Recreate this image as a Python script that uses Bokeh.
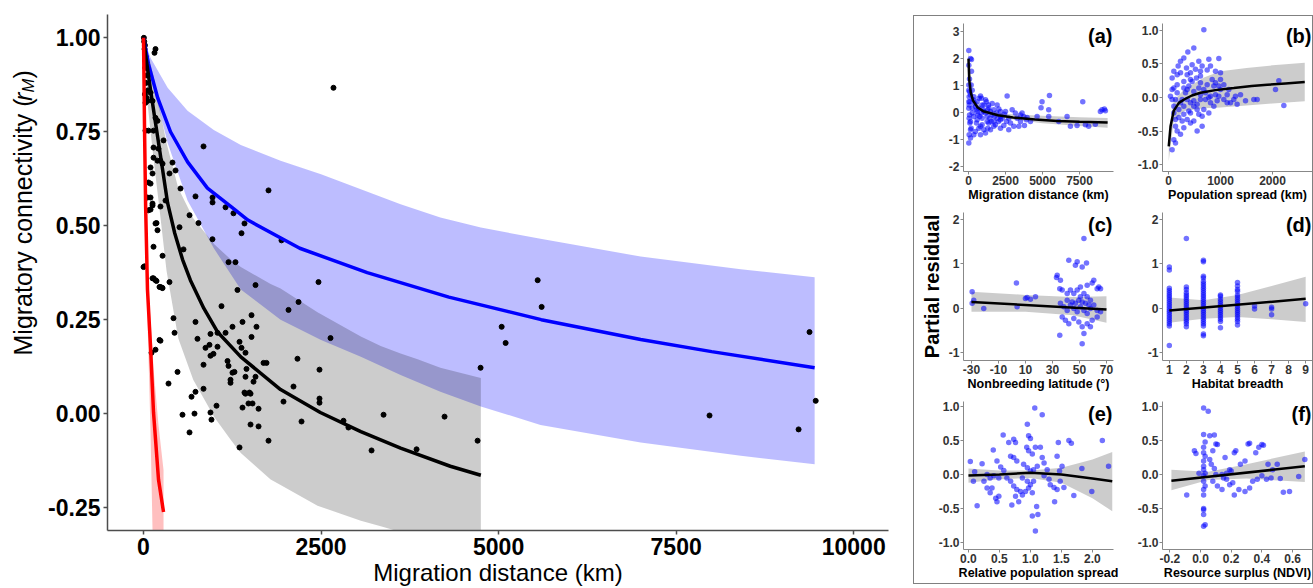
from bokeh.plotting import figure
from bokeh.layouts import row, column
from bokeh.models import Range1d, FixedTicker, NumeralTickFormatter, Label, Spacer
from bokeh.embed import file_html
from bokeh.resources import INLINE
import math

FONT = "Liberation Sans"

# ---------------- main panel data ----------------
main_x = [5, 10, 20, 15, 30, 40, 25, 50, 35, 60, 20, 45,
          155, 169, 2675, 845, 1760, 1943, 2464, 1577, 1323,
          732, 972, 972, 1155, 1267, 1422, 1380, 648, 774, 971,
          521, 507, 563, 1197, 1295, 366, 268, 141, 183, 197,
          0, 127, 169, 225, 260, 282, 197, 408, 451, 366, 310,
          127, 56, 28, 99, 70, 28, 141, 169, 197, 141, 211,
          239, 268, 141, 99, 127, 70, 99, 99, 56, 127, 70, 99,
          127, 239, 169, 14, 141, 183, 239, 268,
          1098, 422, 437, 732, 760, 943, 1042, 1155, 929, 873, 1042,
          943, 985, 1253, 1394, 1521, 1591, 1521, 1352, 1380, 1436,
          845, 1183, 1197, 1281, 1253, 1225, 1225, 1450, 1436, 1577, 1549,
          1690, 1732, 479, 352, 225, 113, 169, 732, 676, 845, 1422, 1492,
          2183, 2042, 239, 2633, 2168, 2112, 2478, 2478, 2478, 1971,
          549, 718, 648, 943, 957, 1028, 1394, 1436, 1507, 1478, 1535,
          1507, 1620, 1352, 1760, 1620, 2225, 2816, 2886, 3211, 3380,
          3845, 4239, 4746, 4704, 5550, 5606, 5043, 5099, 7970, 9378, 9465, 9224]
main_y = [1.0, 0.99, 0.98, 0.97, 0.95, 0.93, 0.92, 0.9, 0.88, 0.86, 0.85, 0.84,
          0.96, 0.97, 0.867, 0.711, 0.594, 0.461, 0.35, 0.342, 0.329,
          0.578, 0.575, 0.562, 0.549, 0.533, 0.506, 0.48, 0.528, 0.507, 0.464,
          0.599, 0.496, 0.437, 0.403, 0.403, 0.35, 0.42, 0.444, 0.507, 0.488,
          0.39, 0.36, 0.355, 0.337, 0.335, 0.727, 0.673, 0.668, 0.647, 0.639, 0.567,
          0.832, 0.832, 0.827, 0.854, 0.753, 0.753, 0.753, 0.787, 0.779, 0.708, 0.705,
          0.673, 0.665, 0.681, 0.655, 0.639, 0.615, 0.612, 0.575, 0.575, 0.554, 0.541, 0.543,
          0.559, 0.551, 0.506, 0.392, 0.36, 0.353, 0.337, 0.334,
          0.286, 0.254, 0.215, 0.244, 0.199, 0.212, 0.215, 0.215, 0.183, 0.175, 0.178,
          0.154, 0.159, 0.231, 0.244, 0.262, 0.231, 0.204, 0.191, 0.175, 0.162,
          0.13, 0.14, 0.127, 0.111, 0.109, 0.09, 0.082, 0.119, 0.098, 0.098, 0.085,
          0.135, 0.135, 0.111, 0.08, 0.196, 0.162, 0.17, 0.058, 0.045, 0.066, 0.056, 0.056,
          0.297, 0.276, 0.194, 0.201, 0.146, 0.072, 0.117, 0.04, 0.029, 0.032,
          -0.003, 0.0, -0.05, 0.003, -0.016, 0.021, 0.016, 0.053, 0.053, 0.027, 0.027,
          -0.029, -0.034, -0.09, -0.072, 0.013, -0.021, -0.019, -0.037, -0.098, -0.003,
          -0.095, -0.008, 0.122, -0.072, 0.355, 0.284, 0.231, 0.188, -0.005, 0.217, 0.034, -0.042]

blue_x = [0, 70, 200, 380, 620, 900, 1250, 1470, 2200, 3150, 4300, 5600, 7000, 8000, 9450]
blue_y = [1.0, 0.93, 0.84, 0.75, 0.67, 0.60, 0.548, 0.515, 0.44, 0.375, 0.31, 0.25, 0.197, 0.165, 0.122]
blue_band_x = [0, 100, 340, 620, 990, 1370, 1930, 2500, 3060, 3620, 4180, 4750, 5590, 7000, 8410, 9450]
blue_band_hi = [1.0, 0.946, 0.867, 0.806, 0.755, 0.715, 0.673, 0.637, 0.597, 0.557, 0.522, 0.495, 0.465, 0.418, 0.384, 0.363]
blue_band_lo = [1.0, 0.90, 0.72, 0.567, 0.44, 0.33, 0.25, 0.196, 0.151, 0.103, 0.058, 0.019, -0.030, -0.077, -0.112, -0.135]

black_x = [0, 40, 100, 180, 260, 340, 440, 550, 660, 850, 1040, 1370, 1930, 2490, 3060, 3620, 4320, 4750]
black_y = [1.0, 0.94, 0.86, 0.76, 0.66, 0.56, 0.48, 0.41, 0.355, 0.28, 0.218, 0.151, 0.064, 0.003, -0.048, -0.092, -0.14, -0.164]
gray_band_x = [0, 60, 140, 240, 324, 490, 700, 1000, 1230, 1370, 1790, 1930, 2450, 3060, 3340, 3620, 3860, 4180, 4750]
gray_band_hi = [1.0, 0.96, 0.9, 0.8, 0.72, 0.6, 0.52, 0.45, 0.41, 0.39, 0.345, 0.333, 0.27, 0.205, 0.18, 0.16, 0.145, 0.122, 0.095]
gray_band_lo = [1.0, 0.82, 0.68, 0.52, 0.38, 0.2, 0.09, -0.01, -0.07, -0.105, -0.175, -0.19, -0.245, -0.285, -0.30, -0.315, -0.325, -0.34, -0.36]

red_x = [0, 15, 30, 56, 99, 141, 211, 282]
red_y = [1.0, 0.75, 0.55, 0.33, 0.178, 0.003, -0.175, -0.262]
red_band_x = [0, 30, 56, 99, 127, 141, 211, 282]
red_band_hi = [1.0, 0.6, 0.38, 0.25, 0.17, 0.12, -0.03, -0.15]
red_band_lo = [1.0, 0.5, 0.25, -0.05, -0.31, -0.4, -0.6, -0.8]

main_xticks = [0, 2500, 5000, 7500, 10000]
main_yticks = [-0.25, 0.0, 0.25, 0.5, 0.75, 1.0]

# ---------------- small panel data ----------------
a_x = [22, 135, 200, 22, 200, 68, 180, 22, 135, 360, 810, 880, 1150, 585, 1600, 1935, 1035, 1370, 1710, 2160,
       2610, 2500, 2950, 3170, 3510, 3735, 3960, 2720, 2160, 1710, 1370, 920, 700, 1035, 1485, 470, 1150, 810,
       135, 22, 360, 1820, 2160, 2385, 2720, 2835, 3060, 3510, 3915, 4185, 4635, 3400, 3780, 5420, 4970, 4900,
       5470, 5420, 6100, 6660, 6885, 7335, 7900, 8120, 8570, 7720, 9020, 9180, 9250, 8910, 1035, 585, 250, 360,
       135, 180, 1260, 1600, 90, 250, 585, 920, 1260, 700, 1935, 1485, 2160, 920, 470,
       22, 68, 45, 22, 45, 22, 68, 45, 90, 135, 45, 250, 315, 405, 540, 630, 765, 855, 990, 1150,
       1305, 1440, 1530, 1755, 1890, 2050, 2270, 2430, 2565, 720, 1215, 1350, 540, 810, 1305, 1710, 2025, 3285, 3620]
a_y = [2.30, 2.0, 1.97, 1.75, 1.53, 1.24, 1.02, 0.83, 0.65, 0.59, 0.61, 0.53, 0.47, 0.40, 0.34, 0.28, 0.28, 0.18, 0.10, 0.04,
       0.61, 0.04, 0.10, -0.02, -0.09, -0.15, -0.18, -0.21, -0.27, -0.33, -0.39, -0.45, -0.58, -0.64, -0.64, -0.70, -0.76, -0.82,
       -0.94, -1.13, -0.82, -0.45, -0.58, -0.48, -0.64, -0.39, -0.51, -0.33, -0.27, -0.33, -0.15, -0.51, -0.48, -0.15, 0.40, 0.18,
       0.63, 0.10, -0.33, -0.15, -0.51, -0.48, -0.45, -0.51, -0.43, 0.40, 0.10, 0.13, 0.07, 0.04, 0.04, 0.04, 0.16, -0.15,
       -0.33, -0.58, -0.15, -0.09, 0.40, -0.02, -0.27, -0.21, -0.33, 0.16, -0.21, 0.04, -0.15, 0.28, 0.22,
       1.02, 0.77, 0.59, 0.40, 0.28, 0.16, -0.09, -0.21, -0.39, -0.64, -0.82, 0.83, 0.47, 0.34, 0.10, -0.09, -0.15, -0.02, 0.10, -0.02,
       0.10, -0.21, -0.33, -0.15, -0.02, 0.13, -0.21, -0.06, -0.33, 0.53, 0.40, 0.28, -0.39, -0.51, -0.58, -0.51, -0.33, -0.21, -0.02]
a_line_x = [0, 50, 150, 300, 600, 1000, 2000, 3000, 4500, 6000, 7500, 9400]
a_line_y = [2.0, 1.2, 0.75, 0.45, 0.2, 0.05, -0.1, -0.18, -0.26, -0.31, -0.34, -0.37]
a_band_x = [0, 300, 1000, 2500, 5000, 7500, 9400]
a_band_hi = [2.3, 0.6, 0.15, -0.05, -0.12, -0.17, -0.2]
a_band_lo = [1.7, 0.3, -0.05, -0.22, -0.4, -0.5, -0.56]

b_x = [680, 487, 372, 295, 103, 186, 231, 346, 423, 519, 615, 744, 776, 968, 904, 1000, 840, 423, 295, 167, 70, 38,
       615, 744, 872, 1000, 1128, 1256, 1385, 1481, 1641, 1320, 1128, 936, 808, 615, 487, 359, 231, 103,
       551, 423, 295, 199, 359, 487, 135, 167, 231, 295, 103, 135, 70, 647, 776, 647, 551, 1288, 1705,
       2218, 2058, 2122, 103, 70, 167, 359, 487, 615, 712, 808, 904, 295, 423, 551, 968, 1064,
       70, 103, 135, 199, 263, 327, 391, 455, 538, 583, 679, 776, 872, 968, 1064, 1160, 1192, 487,
       391, 583, 679, 423, 263, 712, 904, 615, 359, 455, 583, 647, 231, 135, 167, 295, 1000, 808]
b_y = [1.01, 0.74, 0.68, 0.59, 0.39, 0.47, 0.54, 0.44, 0.37, 0.42, 0.39, 0.41, 0.57, 0.58, 0.39, 0.37, 0.27, 0.27, 0.24, 0.19, 0.12, 0.02,
       0.22, 0.19, 0.17, 0.12, 0.04, -0.03, 0.04, -0.05, -0.03, -0.10, -0.08, -0.05, -0.08, -0.03, -0.05, -0.03, -0.08, -0.13,
       -0.18, -0.23, -0.25, -0.30, -0.33, -0.35, -0.43, -0.50, -0.55, -0.45, -0.63, -0.68, -0.78, -0.28, -0.23, -0.43, -0.50, 0.02, -0.03,
       -0.12, 0.12, 0.25, 0.14, 0.29, 0.34, 0.12, 0.09, 0.04, 0.07, 0.02, 0.04, -0.13, -0.08, -0.10, 0.17, 0.19,
       -0.03, -0.23, -0.33, -0.18, -0.03, 0.07, 0.17, 0.24, 0.29, 0.14, 0.12, 0.0, -0.13, 0.02, -0.03, 0.12, -0.08, -0.13,
       -0.20, -0.25, -0.18, -0.38, -0.35, -0.03, 0.22, 0.32, 0.34, 0.49, 0.54, 0.47, 0.37, -0.03, 0.07, 0.14, 0.27, 0.47]
b_line_x = [5, 40, 100, 200, 300, 450, 615, 900, 1256, 1600, 1900, 2250, 2620]
b_line_y = [-0.73, -0.43, -0.2, -0.08, -0.03, 0.03, 0.07, 0.11, 0.14, 0.17, 0.19, 0.21, 0.23]
b_band_x = [5, 100, 300, 680, 1000, 1500, 2000, 2620]
b_band_hi = [-0.5, -0.05, 0.12, 0.3, 0.39, 0.44, 0.48, 0.52]
b_band_lo = [-0.95, -0.35, -0.2, -0.16, -0.15, -0.12, -0.09, -0.055]

c_x = [-29.5, -28.3, -29.5, -20.9, 3.3, 3.8, 10, 13.7, 11.2, 17.4, 33.5, 33, 35.9, 35.4, 42.1, 48.3, 47, 55.2, 52, 53.3,
       50.7, 55.7, 59.4, 65.6, 63.1, 37.2, 40.9, 43.3, 45.8, 48.3, 50.7, 53.3, 55.7, 58.1,
       35.9, 38.4, 40.9, 43.3, 45.8, 48.3, 50.7, 53.3, 55.7, 58.1, 60.6,
       37.2, 39.6, 42.1, 45.8, 49.5, 52, 55.7, 59.4, 63.1, 35.4, 53.3, 52, 58.1, 60.6, 64.3, 65.6, 63.1,
       40.9, 44.6, 47, 49.5, 52, 54.5, 57]
c_y = [0.37, 0.18, 0.11, -0.01, 0.57, 0.03, 0.22, 0.2, 0.24, 0.26, 0.74, 0.69, 0.63, 0.44, 1.08, 1.05, 0.97, 1.02, 0.93, 1.57,
       0.48, 0.52, 0.57, 0.44, 0.44, 0.41, 0.33, 0.41, 0.33, 0.41, 0.26, 0.33, 0.26, 0.18,
       0.11, 0.03, -0.05, 0.07, -0.01, -0.08, 0.03, -0.05, -0.12, -0.01, 0.07,
       -0.2, -0.27, -0.35, -0.23, -0.31, -0.42, -0.35, -0.27, -0.2, -0.61, -0.57, -0.80, -0.42, 0.63, 0.48, -0.08, -0.05,
       0.18, 0.14, 0.11, 0.18, 0.14, 0.11, 0.07]
c_line_x = [-30, 70]
c_line_y = [0.14, -0.03]
c_band_x = [-30, 10, 45, 70]
c_band_hi = [0.37, 0.3, 0.25, 0.27]
c_band_lo = [-0.08, -0.08, -0.16, -0.33]

d_x = [1] * 21 + [2] * 19 + [3] * 27 + [4] * 14 + [5] * 18 + [6] * 2 + [7] * 3 + [9]
d_y = [0.93, 0.86, 0.45, 0.4, 0.35, 0.3, 0.25, 0.2, 0.15, 0.1, 0.05, 0.0, -0.05, -0.1, -0.15, -0.2, -0.25, -0.3, -0.35, -0.4, -0.84,
       1.57, 0.48, 0.42, 0.35, 0.3, 0.25, 0.2, 0.15, 0.1, 0.05, 0.0, -0.05, -0.1, -0.15, -0.2, -0.25, -0.3, -0.35, -0.42,
       1.08, 1.05, 0.72, 0.68, 0.6, 0.55, 0.5, 0.45, 0.4, 0.35, 0.3, 0.25, 0.2, 0.15, 0.1, 0.05, 0.0, -0.05, -0.1, -0.15, -0.2,
       -0.25, -0.3, -0.35, -0.4, -0.58, -0.62,
       0.3, 0.27, 0.2, 0.15, 0.1, 0.05, 0.0, -0.05, -0.1, -0.15, -0.2, -0.25, -0.3, -0.44,
       0.58, 0.5, 0.42, 0.38, 0.3, 0.25, 0.2, 0.15, 0.1, 0.05, 0.0, -0.05, -0.1, -0.15, -0.2, -0.25, -0.3, -0.38,
       0.05, -0.02, 0.02, -0.02, -0.15, 0.1]
d_line_x = [1, 9]
d_line_y = [-0.05, 0.21]
d_band_x = [1, 3, 5, 7, 9]
d_band_hi = [0.24, 0.18, 0.3, 0.5, 0.71]
d_band_lo = [-0.33, -0.24, -0.2, -0.25, -0.31]

e_x = [0.03, 0.1, 0.08, 0.14, 0.22, 0.25, 0.3, 0.35, 0.38, 0.44, 0.46, 0.49, 0.4, 0.46, 0.52, 0.57, 0.56, 0.65, 0.73, 0.76,
       0.68, 0.73, 0.78, 0.62, 0.68, 0.73, 0.78, 0.84, 0.76, 0.7, 0.81, 0.95, 0.97, 1.0, 0.94, 0.97, 1.03, 1.08,
       0.89, 0.95, 1.0, 1.05, 1.11, 0.87, 0.95, 1.0, 1.05, 0.97, 0.92, 1.03, 0.87, 1.07, 1.19, 1.03, 1.1, 1.12, 1.08,
       1.16, 1.19, 1.22, 1.27, 1.22, 1.3, 1.32, 1.38, 1.43, 1.48, 1.39, 1.43, 1.47, 1.51, 1.45, 1.62, 1.66, 1.54,
       1.83, 1.7, 1.99, 2.16, 2.26, 0.3, 0.35, 0.41, 0.49]
e_y = [0.19, 0.04, -0.1, -0.46, 0.16, -0.1, -0.2, -0.27, -0.2, -0.35, -0.4, -0.32, 0.36, 0.2, 0.11, 0.06, 0.58, 0.47, 0.52, 0.47,
       0.27, 0.25, 0.2, -0.05, -0.1, -0.17, -0.22, -0.25, -0.32, -0.45, -0.4, 0.74, 0.57, 0.53, 0.4, 0.35, 0.3, 0.4,
       0.15, 0.1, 0.05, 0.07, 0.12, -0.05, -0.1, -0.15, -0.1, -0.2, -0.25, -0.27, -0.3, 0.98, 0.88, -0.61, -0.47, -0.59, -0.83,
       0.4, 0.25, 0.17, 0.07, -0.02, -0.07, -0.15, -0.19, -0.22, -0.1, -0.4, 0.27, 0.05, 0.12, 0.47, 0.5, 0.46, -0.19,
       0.09, -0.31, -0.25, 0.5, 0.12, 0.0, -0.05, -0.02, -0.05]
e_line_x = [0, 0.5, 1.0, 1.5, 2.0, 2.32]
e_line_y = [-0.015, 0.0, 0.025, 0.0, -0.06, -0.1]
e_band_x = [0, 0.5, 1.0, 1.5, 2.0, 2.32]
e_band_hi = [0.09, 0.06, 0.06, 0.1, 0.22, 0.33]
e_band_lo = [-0.12, -0.07, -0.05, -0.12, -0.35, -0.54]

f_x = [-0.09, -0.04, -0.03, -0.01, 0.02, 0.05,
       0.02, 0.03, 0.02, 0.02, 0.03, 0.02, 0.02, 0.02, 0.03, 0.02, 0.02, 0.03, 0.02, 0.02, 0.02, 0.02, 0.02, 0.02, 0.03,
       0.06, 0.09, 0.1, 0.11, 0.08, 0.06, 0.07, 0.09, 0.1, 0.08, 0.11, 0.14, 0.16, 0.19, 0.17, 0.21, 0.22, 0.23, 0.26, 0.29,
       0.31, 0.32, 0.36, 0.38, 0.4, 0.41, 0.22, 0.25, 0.29, 0.32, 0.34, 0.37, 0.4, 0.44, 0.47, 0.52, 0.54, 0.58, 0.68, 0.64,
       0.46, 0.43, 0.14, 0.15, 0.17, 0.19, 0.2, 0.5]
f_y = [-0.3, 0.35, 0.31, 0.02, 0.98, 0.93,
       0.59, 0.48, 0.4, 0.32, 0.27, 0.2, 0.12, 0.07, 0.02, -0.02, -0.1, -0.17, -0.22, -0.3, -0.5, -0.52, -0.59, -0.76, -0.74,
       0.57, 0.58, 0.45, 0.44, 0.35, 0.22, 0.15, 0.09, 0.0, -0.1, -0.17, -0.22, 0.25, 0.07, -0.07, -0.12, 0.32, 0.35, 0.15, 0.2,
       0.45, 0.46, 0.32, 0.4, 0.44, 0.43, -0.3, -0.22, -0.25, -0.2, -0.1, -0.07, -0.02, 0.15, 0.07, -0.06, -0.26, -0.25, 0.22, -0.03,
       -0.05, -0.07, 0.0, -0.05, 0.02, -0.15, 0.05, 0.15]
f_line_x = [-0.19, 0.68]
f_line_y = [-0.09, 0.12]
f_band_x = [-0.19, 0.05, 0.3, 0.68]
f_band_hi = [0.07, 0.04, 0.15, 0.34]
f_band_lo = [-0.23, -0.08, -0.06, -0.11]

# ---------------- y-axis title (separate strip) ----------------
t = figure(width=44, height=588, x_range=Range1d(0, 1), y_range=Range1d(0, 1),
           output_backend="svg", toolbar_location=None,
           x_axis_location=None, y_axis_location=None,
           min_border_left=0, min_border_right=0, min_border_top=0, min_border_bottom=0)
t.outline_line_color = None
t.grid.visible = False
ylab_common = dict(x_units="screen", y_units="screen", angle=math.pi / 2, text_font=FONT,
                   text_color="black", text_baseline="alphabetic", text_align="left")
t.add_layout(Label(x=22, y=175, text="Migratory connectivity (", text_font_size="25px", **ylab_common))
t.add_layout(Label(x=22, y=429.5, text="r", text_font_size="25px", text_font_style="italic", **ylab_common))
t.add_layout(Label(x=27, y=438, text="M", text_font_size="16.5px", text_font_style="italic", **ylab_common))
t.add_layout(Label(x=22, y=452, text=")", text_font_size="25px", **ylab_common))

# ---------------- main figure ----------------
p = figure(width=869, height=588, x_range=Range1d(-507, 10490), y_range=Range1d(-0.311, 1.062),
           output_backend="svg", toolbar_location=None,
           min_border_left=63, min_border_right=25, min_border_top=14, min_border_bottom=56)
p.outline_line_color = None
p.grid.visible = False
p.background_fill_color = "white"

p.varea(x=blue_band_x, y1=blue_band_lo, y2=blue_band_hi, fill_color="#0000ff", fill_alpha=0.26)
p.varea(x=gray_band_x, y1=gray_band_lo, y2=gray_band_hi, fill_color="#000000", fill_alpha=0.2)
p.varea(x=red_band_x, y1=red_band_lo, y2=red_band_hi, fill_color="#ff0000", fill_alpha=0.25)
p.scatter(main_x, main_y, size=5, color="black")
p.line(blue_x, blue_y, line_color="#0000ff", line_width=3.5)
p.line(black_x, black_y, line_color="black", line_width=3.5)
p.line(red_x, red_y, line_color="#ff0000", line_width=3.5)

for ax in (p.xaxis[0], p.yaxis[0]):
    ax.axis_line_color = "#4d4d4d"
    ax.axis_line_width = 1.5
    ax.major_tick_line_color = "#4d4d4d"
    ax.major_tick_line_width = 1.5
    ax.major_tick_out = 4
    ax.major_tick_in = 0
    ax.minor_tick_line_color = None
    ax.major_label_text_font = FONT
    ax.major_label_text_font_style = "bold"
    ax.major_label_text_font_size = "23px"
    ax.major_label_text_color = "black"
p.xaxis.ticker = FixedTicker(ticks=main_xticks)
p.yaxis.ticker = FixedTicker(ticks=main_yticks)
p.xaxis.formatter = NumeralTickFormatter(format="0")
p.yaxis.formatter = NumeralTickFormatter(format="0.00")
p.xaxis.major_label_standoff = 3
p.yaxis.major_label_standoff = 3
p.xaxis.axis_label = "Migration distance (km)"
p.xaxis.axis_label_text_font = FONT
p.xaxis.axis_label_text_font_style = "normal"
p.xaxis.axis_label_text_font_size = "24px"
p.xaxis.axis_label_text_color = "black"
p.xaxis.axis_label_standoff = 1


# ---------------- small panels ----------------
def small(xr, yr, xt, yt, xf, yf, xlabel, letter, width, bl, br,
          px, py, lx, ly, bx, bhi, blo):
    f = figure(width=width, height=189, x_range=Range1d(*xr), y_range=Range1d(*yr),
               output_backend="svg", toolbar_location=None,
               min_border_left=bl, min_border_right=br, min_border_top=7, min_border_bottom=34)
    f.outline_line_color = None
    f.grid.visible = False
    f.varea(x=bx, y1=blo, y2=bhi, fill_color="#000000", fill_alpha=0.2)
    f.scatter(px, py, size=5.5, color="#0000ff", alpha=0.55, line_color=None)
    f.line(lx, ly, line_color="black", line_width=2.5)
    for ax in (f.xaxis[0], f.yaxis[0]):
        ax.axis_line_color = "#888888"
        ax.axis_line_width = 1
        ax.major_tick_line_color = "#888888"
        ax.major_tick_out = 3
        ax.major_tick_in = 0
        ax.minor_tick_line_color = None
        ax.major_label_text_font = FONT
        ax.major_label_text_font_style = "bold"
        ax.major_label_text_font_size = "12px"
        ax.major_label_text_color = "#333333"
        ax.major_label_standoff = 1
    f.xaxis.ticker = FixedTicker(ticks=xt)
    f.yaxis.ticker = FixedTicker(ticks=yt)
    f.xaxis.formatter = NumeralTickFormatter(format=xf)
    f.yaxis.formatter = NumeralTickFormatter(format=yf)
    f.xaxis.axis_label = xlabel
    f.xaxis.axis_label_text_font = FONT
    f.xaxis.axis_label_text_font_style = "bold"
    f.xaxis.axis_label_text_font_size = "12.5px"
    f.xaxis.axis_label_text_color = "black"
    f.xaxis.axis_label_standoff = 0
    f.add_layout(Label(x=149, y=147, text=letter, x_units="screen", y_units="screen",
                       text_align="right", text_baseline="top", text_font=FONT,
                       text_font_style="bold", text_font_size="20px", text_color="black"))
    return f


L = dict(width=209, bl=49, br=10)   # left column
R = dict(width=189, bl=39, br=0)    # right column

pa = small((-338, 9797), (-2.184, 3.3), [0, 2500, 5000, 7500], [-2, -1, 0, 1, 2, 3], "0", "0",
           "Migration distance (km)", "(a)", px=a_x, py=a_y, lx=a_line_x, ly=a_line_y,
           bx=a_band_x, bhi=a_band_hi, blo=a_band_lo, **L)
pb = small((-115, 2769), (-1.104, 1.104), [0, 1000, 2000], [-1.0, -0.5, 0.0, 0.5, 1.0], "0", "0.0",
           "Population spread (km)", "(b)", px=b_x, py=b_y, lx=b_line_x, ly=b_line_y,
           bx=b_band_x, bhi=b_band_hi, blo=b_band_lo, **R)
pc = small((-35.9, 75.2), (-1.18, 2.158), [-30, -10, 10, 30, 50, 70], [-1, 0, 1, 2], "0", "0",
           "Nonbreeding latitude (°)", "(c)", px=c_x, py=c_y, lx=c_line_x, ly=c_line_y,
           bx=c_band_x, bhi=c_band_hi, blo=c_band_lo, **L)
pd = small((0.6, 9.4), (-1.18, 2.158), [1, 2, 3, 4, 5, 6, 7, 8, 9], [-1, 0, 1, 2], "0", "0",
           "Habitat breadth", "(d)", px=d_x, py=d_y, lx=d_line_x, ly=d_line_y,
           bx=d_band_x, bhi=d_band_hi, blo=d_band_lo, **R)
pe = small((-0.08, 2.34), (-1.103, 1.074), [0.0, 0.5, 1.0, 1.5, 2.0], [-1.0, -0.5, 0.0, 0.5, 1.0], "0.0", "0.0",
           "Relative population spread", "(e)", px=e_x, py=e_y, lx=e_line_x, ly=e_line_y,
           bx=e_band_x, bhi=e_band_hi, blo=e_band_lo, **L)
pf = small((-0.248, 0.73), (-1.103, 1.074), [-0.2, 0.0, 0.2, 0.4, 0.6], [-1.0, -0.5, 0.0, 0.5, 1.0], "0.0", "0.0",
           "Resource surplus (NDVI)", "(f)", px=f_x, py=f_y, lx=f_line_x, ly=f_line_y,
           bx=f_band_x, bhi=f_band_hi, blo=f_band_lo, **R)

pc.yaxis.axis_label = "Partial residual"
pc.yaxis.axis_label_text_font = FONT
pc.yaxis.axis_label_text_font_style = "bold"
pc.yaxis.axis_label_text_font_size = "20px"
pc.yaxis.axis_label_text_color = "black"
pc.yaxis.axis_label_standoff = 3

box = column(row(pa, pb), row(pc, pd), row(pe, pf),
             styles={"border": "1px solid #808080"})
right = column(Spacer(width=400, height=15), box)
layout = row(t, p, right)

open("out.html", "w").write(file_html(layout, INLINE))
